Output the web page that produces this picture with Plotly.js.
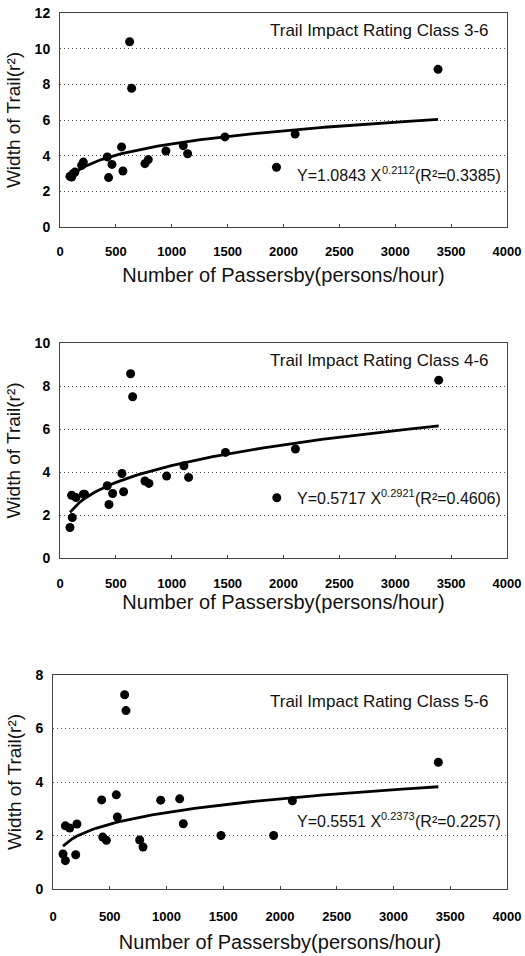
<!DOCTYPE html>
<html>
<head>
<meta charset="utf-8">
<script src="https://cdn.plot.ly/plotly-3.0.1.min.js"></script>
<style>html,body{margin:0;padding:0;background:#fff;}#chart{width:525px;height:956px;}</style>
</head>
<body>
<div id="chart"></div>
<script>
// Panel 1: Trail Impact Rating Class 3-6
const x36 = [89, 104, 119, 134, 194, 209, 423, 435, 465, 551, 563, 623, 641, 760, 790, 948, 1103, 1142, 1476, 1937, 2104, 3383];
const y36 = [2.84, 2.8, 3.0, 3.08, 3.46, 3.64, 3.93, 2.77, 3.51, 4.49, 3.14, 10.39, 7.78, 3.55, 3.78, 4.26, 4.56, 4.11, 5.05, 3.35, 5.21, 8.84];
// Panel 2: Trail Impact Rating Class 4-6
const x46 = [89, 110, 104, 143, 209, 220, 423, 438, 471, 554, 569, 632, 650, 760, 796, 954, 1109, 1151, 1481, 1940, 2107, 3389];
const y46 = [1.42, 1.88, 2.92, 2.81, 2.97, 2.97, 3.36, 2.49, 3.0, 3.93, 3.08, 8.57, 7.5, 3.58, 3.47, 3.81, 4.29, 3.75, 4.91, 2.8, 5.07, 8.27];
// Panel 3: Trail Impact Rating Class 5-6
const x56 = [88, 109, 109, 147, 200, 211, 429, 438, 470, 558, 567, 631, 643, 764, 793, 949, 1116, 1148, 1480, 1944, 2109, 3395];
const y56 = [1.31, 1.06, 2.36, 2.28, 1.28, 2.43, 3.33, 1.94, 1.82, 3.52, 2.69, 7.26, 6.67, 1.83, 1.57, 3.32, 3.37, 2.44, 2.0, 2.0, 3.3, 4.74];

const panelTitles = ["Trail Impact Rating Class 3-6", "Trail Impact Rating Class 4-6", "Trail Impact Rating Class 5-6"];
const coefA = [1.0843, 0.5717, 0.5551];
const coefB = [0.2112, 0.2921, 0.2373];
const coefALabel = ["1.0843", "0.5717", "0.5551"];
const coefBLabel = ["0.2112", "0.2921", "0.2373"];
const r2Label = ["0.3385", "0.4606", "0.2257"];
const yMax = [12, 10, 8];
const xTickVals = [0, 500, 1000, 1500, 2000, 2500, 3000, 3500, 4000];
const xTitle = "Number of Passersby(persons/hour)";
const yTitle = "Width of Trail(r\u00B2)";

const W = 525, H = 956;
const FAMILY = 'Liberation Sans, Arial, sans-serif';
const xs = [x36, x46, x56], ys = [y36, y46, y56];
// pixel geometry of plot areas [left, right, top, bottom]
const boxes = [[60, 507, 13, 227], [60, 507, 343, 558], [53, 507, 675, 889]];
const tickStand = [12, 13, 15];
const titleStand = [10, 5, 12];

const ctx = document.createElement('canvas').getContext('2d');
function textWidth(s, size) {
  ctx.font = size + 'px "Liberation Sans", Arial, sans-serif';
  return ctx.measureText(s).width;
}

const traces = [];
const layout = {
  width: W, height: H, margin: {l: 0, r: 0, t: 0, b: 0},
  paper_bgcolor: '#fff', plot_bgcolor: '#fff', showlegend: false,
  font: {family: FAMILY, color: '#111', size: 12},
  annotations: []
};

const EQ_SIZE = 16, SUP_SIZE = 11;

for (let i = 0; i < 3; i++) {
  const sfx = i === 0 ? '' : String(i + 1);
  const xa = 'x' + sfx, ya = 'y' + sfx;
  const [l, r, t, b] = boxes[i];
  traces.push({
    type: 'scatter', mode: 'markers', x: xs[i], y: ys[i], xaxis: xa, yaxis: ya,
    marker: {color: '#000', size: 9}, cliponaxis: false
  });
  const xmin = Math.min(...xs[i]), xmax = Math.max(...xs[i]);
  const cx = [], cy = [];
  const n = 80;
  for (let k = 0; k <= n; k++) {
    const xv = xmin + (xmax - xmin) * k / n;
    cx.push(xv); cy.push(coefA[i] * Math.pow(xv, coefB[i]));
  }
  traces.push({
    type: 'scatter', mode: 'lines', x: cx, y: cy, xaxis: xa, yaxis: ya,
    line: {color: '#000', width: 2.8}
  });
  layout['xaxis' + sfx] = {
    domain: [l / W, r / W], range: [0, 4000], anchor: ya,
    tickvals: xTickVals, ticktext: xTickVals.map(String),
    showgrid: false, zeroline: false,
    showline: true, mirror: true, linecolor: '#444', linewidth: 1,
    ticks: 'inside', ticklen: 3, tickcolor: '#444', ticklabelstandoff: tickStand[i],
    tickfont: {size: 13, color: '#000', weight: 'bold'},
    title: {text: xTitle, font: {size: 20, color: '#111'}, standoff: titleStand[i]}
  };
  const yt = [];
  for (let v = 0; v <= yMax[i]; v += 2) yt.push(v);
  layout['yaxis' + sfx] = {
    domain: [1 - b / H, 1 - t / H], range: [0, yMax[i]], anchor: xa,
    tickvals: yt, ticktext: yt.map(String),
    showgrid: true, gridcolor: '#555', griddash: '1px,3px', gridwidth: 1,
    zeroline: false, showline: true, mirror: true, linecolor: '#444', linewidth: 1,
    ticks: '', ticklabelstandoff: 6,
    tickfont: {size: 14, color: '#000', weight: 'bold'},
    title: {text: yTitle, font: {size: 19, color: '#111'}, standoff: 8}
  };
  layout.annotations.push({
    xref: 'paper', yref: 'paper', x: 491 / W, y: 1 - (t + 17 + (i === 2 ? 9 : 0)) / H,
    xanchor: 'right', yanchor: 'middle', showarrow: false,
    text: panelTitles[i], font: {size: 17, color: '#111'}
  });
  // regression equation: main text, raised exponent, R² part
  const eqY = 1 - [175, 498, 821][i] / H;
  const eqRight = 501 / W;
  const partA = 'Y=' + coefALabel[i] + ' X';
  const partB = coefBLabel[i];
  const partC = '(R\u00B2=' + r2Label[i] + ')';
  const wC = textWidth(partC, EQ_SIZE);
  const wB = textWidth(partB, SUP_SIZE);
  const common = {xref: 'paper', yref: 'paper', y: eqY, x: eqRight, xanchor: 'right', yanchor: 'middle',
    showarrow: false, borderpad: 0, borderwidth: 0};
  layout.annotations.push(Object.assign({}, common, {text: partC, font: {size: EQ_SIZE, color: '#111'}}));
  layout.annotations.push(Object.assign({}, common, {text: partB, font: {size: SUP_SIZE, color: '#111'}, xshift: -wC, yshift: 5}));
  layout.annotations.push(Object.assign({}, common, {text: partA, font: {size: EQ_SIZE, color: '#111'}, xshift: -wC - wB - 1}));
}

Plotly.newPlot('chart', traces, layout, {staticPlot: true});
</script>
</body>
</html>
